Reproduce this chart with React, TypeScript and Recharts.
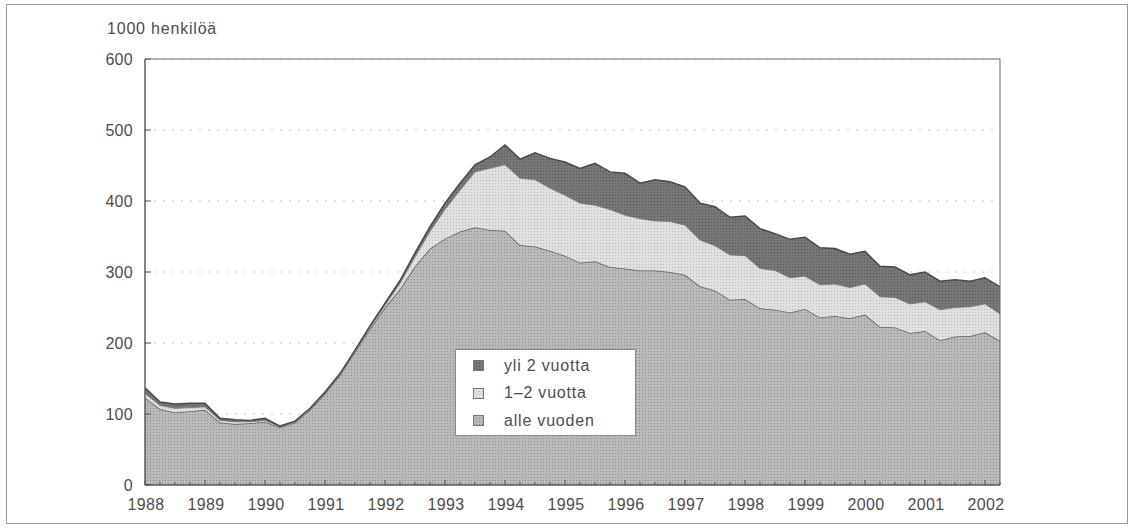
import { AreaChart, Area, XAxis, YAxis, CartesianGrid, ReferenceArea } from 'recharts'

// Työttömät työnhakijat työttömyyden keston mukaan, neljännesvuosittain 1988–2002
const vuodet = [1988, 1989, 1990, 1991, 1992, 1993, 1994, 1995, 1996, 1997, 1998, 1999, 2000, 2001, 2002]
const neljannekset = ['Q1', 'Q2', 'Q3', 'Q4']

// alle vuoden
const alleVuoden = [
  123, 107, 102, 104, 106, 88, 86, 87, 89, 81, 88, 106, 129, 155, 188, 220,
  250, 276, 308, 333, 347, 357, 363, 359, 358, 338, 336, 330, 323, 313, 315, 307,
  305, 302, 302, 300, 296, 280, 274, 261, 262, 249, 247, 243, 248, 236, 238, 235,
  240, 223, 222, 214, 217, 204, 209, 210, 215, 203,
]
// 1–2 vuotta
const vuodestaKahteen = [
  6, 5, 6, 5, 4, 3, 3, 2, 2, 1, 1, 1, 1, 1, 1, 2,
  3, 8, 13, 24, 41, 58, 78, 87, 93, 94, 94, 88, 85, 84, 79, 81,
  75, 73, 70, 71, 70, 65, 63, 63, 61, 56, 55, 49, 46, 46, 45, 43,
  43, 42, 42, 41, 41, 43, 41, 41, 40, 38,
]
// yli 2 vuotta
const yliKahden = [
  8, 5, 6, 6, 5, 3, 3, 2, 3, 1, 1, 1, 1, 1, 1, 2,
  3, 4, 6, 7, 9, 10, 10, 16, 28, 27, 38, 42, 47, 49, 59, 53,
  59, 50, 58, 56, 54, 52, 55, 53, 56, 56, 52, 54, 55, 52, 50, 47,
  46, 43, 43, 41, 42, 40, 39, 36, 37, 38,
]

const yTicks = [0, 100, 200, 300, 400, 500, 600]

const kaikkiNeljannekset = vuodet.flatMap((v) => neljannekset.map((q) => `${v} ${q}`))
const data = alleVuoden.map((a, i) => ({
  q: kaikkiNeljannekset[i],
  alle: a,
  keski: vuodestaKahteen[i],
  yli: yliKahden[i],
}))

const FONT = "'Liberation Sans', Arial, sans-serif"
const TEXT = '#4d4d4d'

// rasterikuviot (painetun kuvan pisterasteri)
const rasterit = [
  { id: 'rasteri-yli', bg: '#777777', dot: '#555555' },
  { id: 'rasteri-keski', bg: '#e0e0e0', dot: '#b8b8b8' },
  { id: 'rasteri-alle', bg: '#b9b9b9', dot: '#8c8c8c' },
]

const sarjat = [
  { key: 'yli', name: 'yli 2 vuotta', fill: 'url(#rasteri-yli)' },
  { key: 'keski', name: '1–2 vuotta', fill: 'url(#rasteri-keski)' },
  { key: 'alle', name: 'alle vuoden', fill: 'url(#rasteri-alle)' },
]

function Patterns() {
  return (
    <svg width={0} height={0} style={{ position: 'absolute' }}>
      <defs>
        {rasterit.map((r) => (
          <pattern key={r.id} id={r.id} width={3} height={3} patternUnits="userSpaceOnUse">
            <rect width={3} height={3} fill={r.bg} />
            <rect width={1} height={1} fill={r.dot} />
          </pattern>
        ))}
      </defs>
    </svg>
  )
}

// neljännesvuosien pikku tikit, vuosiluku joka neljännelle
function QuarterTick(props: { x?: number; y?: number; index?: number; payload?: { value: string } }) {
  const { x = 0, y = 0, index = 0, payload } = props
  const isYear = index % 4 === 0
  return (
    <g>
      <line x1={x} x2={x} y1={y} y2={y - (isYear ? 5 : 3)} stroke="#555" />
      {isYear && (
        <text x={x + 1} y={y + 25} textAnchor="middle" style={{ fontSize: 16, fill: TEXT, fontFamily: FONT, letterSpacing: 0.3 }}>
          {payload?.value.slice(0, 4)}
        </text>
      )}
    </g>
  )
}

function ValueTick(props: { x?: number; y?: number; payload?: { value: number } }) {
  const { x = 0, y = 0, payload } = props
  return (
    <g>
      <line x1={x + 12} x2={x + 18} y1={y} y2={y} stroke="#555" />
      <text x={x} y={y} dy="0.36em" textAnchor="end" style={{ fontSize: 16, fill: TEXT, fontFamily: FONT, letterSpacing: 0.3 }}>
        {payload?.value}
      </text>
    </g>
  )
}

function LegendBox() {
  return (
    <div
      style={{
        position: 'absolute', left: 455, top: 349,
        width: 181, height: 87, background: '#fff', border: '1px solid #8a8a8a',
        fontFamily: FONT, fontSize: 16, color: TEXT, letterSpacing: 0.8,
        paddingTop: 2, boxSizing: 'border-box',
      }}
    >
      {sarjat.map((s) => (
        <div key={s.key} style={{ display: 'flex', alignItems: 'center', height: 27.5 }}>
          <svg width={11} height={11} style={{ marginLeft: 17, marginRight: 20 }}>
            <rect x={0.5} y={0.5} width={10} height={10} fill={s.fill} stroke="#777" />
          </svg>
          <span>{s.name}</span>
        </div>
      ))}
    </div>
  )
}

export default function App() {
  return (
    <div style={{ position: 'absolute', left: 0, top: 0, width: 1133, height: 528, background: '#fff' }}>
      <Patterns />
      <div style={{ position: 'absolute', left: 6, top: 4, width: 1120, height: 518, border: '1px solid #9a9a9a' }} />
      <div
        style={{
          position: 'absolute', left: 107, top: 20, fontFamily: FONT, fontSize: 16,
          color: TEXT, letterSpacing: 0.8, whiteSpace: 'nowrap',
        }}
      >
        1000 henkilöä
      </div>
      <AreaChart width={1133} height={528} data={data} margin={{ top: 59, right: 133, left: 85, bottom: 0 }}>
        <CartesianGrid vertical={false} stroke="#c4c4c4" strokeDasharray="2 7" />
        <XAxis
          dataKey="q"
          interval={0}
          tick={<QuarterTick />}
          tickLine={false}
          tickSize={0}
          tickMargin={0}
          axisLine={{ stroke: '#555' }}
          height={43}
        />
        <YAxis
          domain={[0, 600]}
          ticks={yTicks}
          tick={<ValueTick />}
          tickLine={false}
          tickSize={0}
          tickMargin={12}
          axisLine={{ stroke: '#555' }}
          width={60}
        />
        <Area type="linear" dataKey="alle" name="alle vuoden" stackId="1" fill="url(#rasteri-alle)" fillOpacity={1}
          stroke="#5e5e5e" strokeWidth={1.5} dot={false} activeDot={false} isAnimationActive={false} />
        <Area type="linear" dataKey="keski" name="1–2 vuotta" stackId="1" fill="url(#rasteri-keski)" fillOpacity={1}
          stroke="#8c8c8c" strokeWidth={1} dot={false} activeDot={false} isAnimationActive={false} />
        <Area type="linear" dataKey="yli" name="yli 2 vuotta" stackId="1" fill="url(#rasteri-yli)" fillOpacity={1}
          stroke="#4a4a4a" strokeWidth={1.5} dot={false} activeDot={false} isAnimationActive={false} />
        <ReferenceArea x1={kaikkiNeljannekset[0]} x2={kaikkiNeljannekset[data.length - 1]} y1={0} y2={600}
          fill="none" stroke="#6a6a6a" ifOverflow="visible" />
      </AreaChart>
      <LegendBox />
    </div>
  )
}
